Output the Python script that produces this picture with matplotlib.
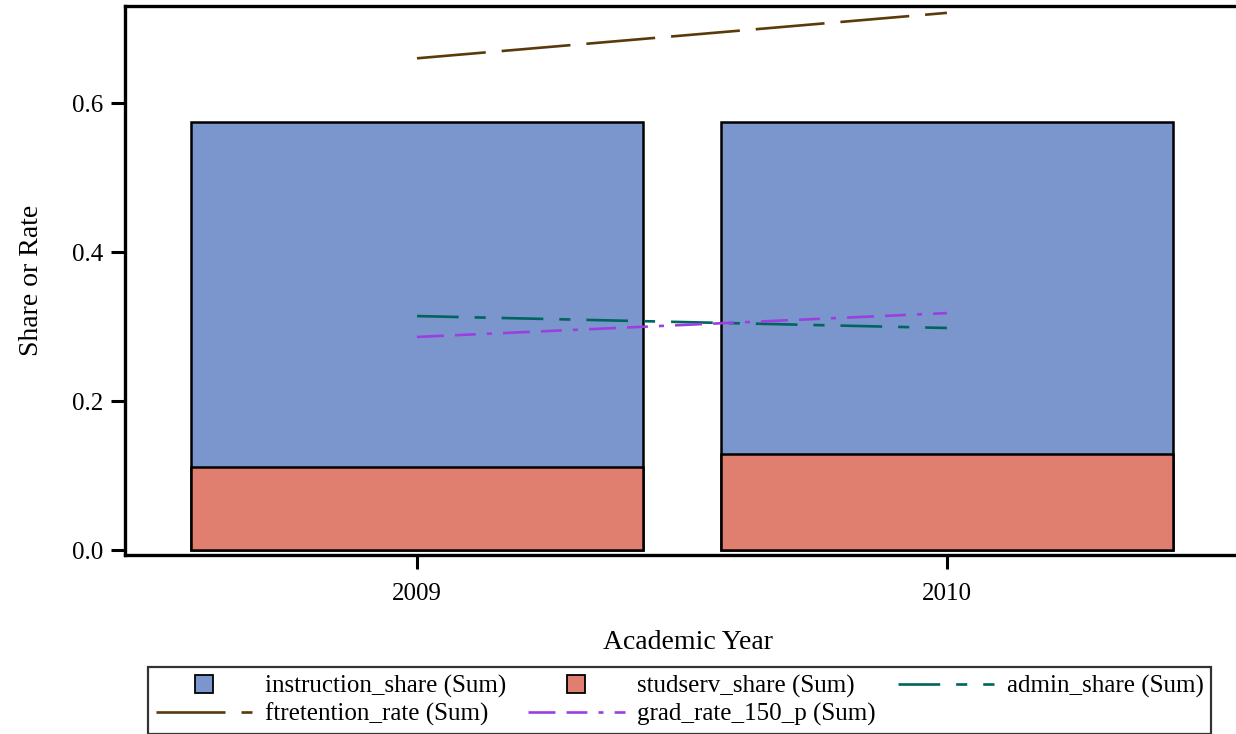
import matplotlib
matplotlib.use("Agg")
import matplotlib.pyplot as plt
from matplotlib.lines import Line2D

# Values
years = [2009, 2010]
instruction_share = [0.575, 0.575]
studserv_share = [0.111, 0.129]
admin_share = [0.314, 0.298]
ftretention_rate = [0.660, 0.721]
grad_rate_150_p = [0.286, 0.318]
y_ticks = [0.0, 0.2, 0.4, 0.6]

blue = '#7B96CC'
red = '#E07F70'
brown = '#5A3A0A'
teal = '#00645F'
purple = '#9B3FE0'

plt.rcParams['font.family'] = ['Liberation Serif', 'DejaVu Serif']
plt.rcParams['lines.scale_dashes'] = False

fig = plt.figure(figsize=(12.36, 7.34), dpi=100)
ax = fig.add_axes([125 / 1236, 1 - 555 / 734, (1250 - 125) / 1236, (555 - 6) / 734])

# bars are overlaid, not stacked
ax.bar(years, instruction_share, width=0.853, color=blue, edgecolor='black', linewidth=1.8, zorder=2)
ax.bar(years, studserv_share, width=0.853, color=red, edgecolor='black', linewidth=1.8, zorder=3)

lw = 1.9
ax.plot(years, ftretention_rate, color=brown, lw=lw, dashes=[49.7, 11.5], zorder=4)
ax.plot(years, admin_share, color=teal, lw=lw, dashes=[30, 11.5, 8, 11.5], zorder=4)
ax.plot(years, grad_rate_150_p, color=purple, lw=lw, dashes=[19.4, 8, 15, 8, 3.6, 8], zorder=5)

ax.set_xlim(2008.449, 2010.572)
ax.set_ylim(-0.0067, 0.7302)
ax.set_xticks(years)
ax.set_xticklabels([str(y) for y in years])
ax.set_yticks(y_ticks)
ax.set_yticklabels([f'{v:.1f}' for v in y_ticks])

for s in ax.spines.values():
    s.set_linewidth(2.4)
ax.tick_params(axis='both', labelsize=18, width=2.2, length=10, pad=6)
ax.tick_params(axis='x', pad=10)

ax.set_xlabel('Academic Year', fontsize=20, labelpad=18)
ax.set_ylabel('Share or Rate', fontsize=20, labelpad=20)

# legend, column-first order so rows read: instruction, studserv, admin / ftretention, grad
h_instr = Line2D([], [], ls='none', marker='s', markersize=13.5, markerfacecolor=blue, markeredgecolor='black', markeredgewidth=1.3)
h_stud = Line2D([], [], ls='none', marker='s', markersize=13.5, markerfacecolor=red, markeredgecolor='black', markeredgewidth=1.3)
h_admin = Line2D([], [], color=teal, lw=lw, dashes=[30, 11.5, 8, 11.5])
h_ftret = Line2D([], [], color=brown, lw=lw, dashes=[49.7, 11.5])
h_grad = Line2D([], [], color=purple, lw=lw, dashes=[19.4, 8, 15, 8, 3.6, 8])

handles = [h_instr, h_ftret, h_stud, h_grad, h_admin]
labels = ['instruction_share (Sum)', 'ftretention_rate (Sum)', 'studserv_share (Sum)',
          'grad_rate_150_p (Sum)', 'admin_share (Sum)']
leg = fig.legend(handles, labels, ncol=3, loc='center', bbox_to_anchor=(0.550, 0.0456),
                 fontsize=18, frameon=True, fancybox=False, edgecolor='black',
                 handlelength=3.85, handletextpad=0.5, columnspacing=0.9,
                 labelspacing=0.2, borderpad=0.3, borderaxespad=0, numpoints=1)
leg.get_frame().set_linewidth(1.6)

fig.savefig('out.png', dpi=100)
